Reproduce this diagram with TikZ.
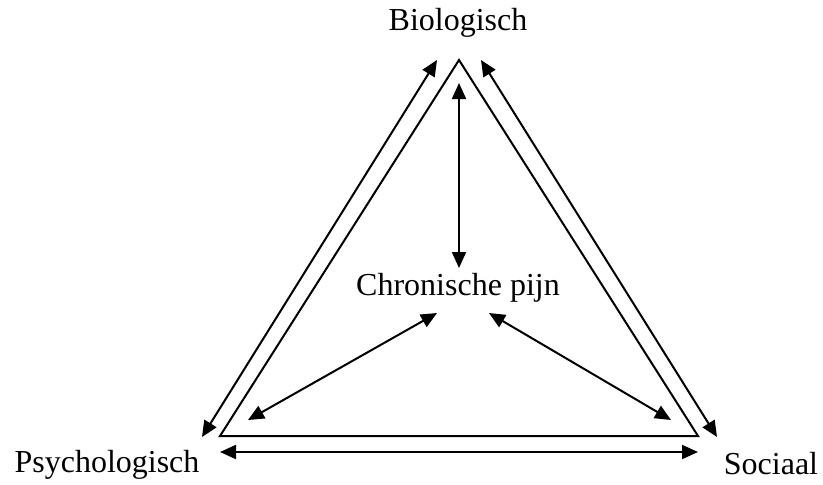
\documentclass[tikz,border=0pt]{standalone}
\usepackage{fontspec}
\setmainfont{Liberation Serif}
\usetikzlibrary{arrows.meta}

\begin{document}
\begin{tikzpicture}[x=0.5pt,y=-0.5pt,
      lbl/.style={font=\fontsize{16}{19}\selectfont,inner sep=0pt},
      arr/.style={{Triangle[length=8pt,width=7pt]}-{Triangle[length=8pt,width=7pt]},line width=1pt},
      tri/.style={line width=1pt,line join=miter}]
    \useasboundingbox (0,0) rectangle (823,484);
    % corners of the triangle
    \coordinate (top) at (459,60);
    \coordinate (bl) at (220,436);
    \coordinate (br) at (698,436);
    \draw[tri] (top) -- (bl) -- (br) -- cycle;
    % labels
    \node[lbl] (bio) at (458,23) {Biologisch};
    \node[lbl] (psy) at (107,465) {Psychologisch};
    \node[lbl] (soc) at (771,464) {Sociaal};
    \node[lbl] (pijn) at (458,288) {Chronische pijn};
    % outer arrows
    \coordinate (l1) at (437,60);  \coordinate (l2) at (202,437);
    \coordinate (r1) at (481,60);  \coordinate (r2) at (717,437);
    \coordinate (b1) at (220,452); \coordinate (b2) at (698,452);
    \draw[arr] (l1) -- (l2);
    \draw[arr] (r1) -- (r2);
    \draw[arr] (b1) -- (b2);
    % inner arrows
    \coordinate (c1) at (459,83);  \coordinate (c2) at (459,268);
    \coordinate (d1) at (437,313); \coordinate (d2) at (248,420);
    \coordinate (e1) at (489,313); \coordinate (e2) at (671,420);
    \draw[arr] (c1) -- (c2);
    \draw[arr] (d1) -- (d2);
    \draw[arr] (e1) -- (e2);
  \end{tikzpicture}
\end{document}
